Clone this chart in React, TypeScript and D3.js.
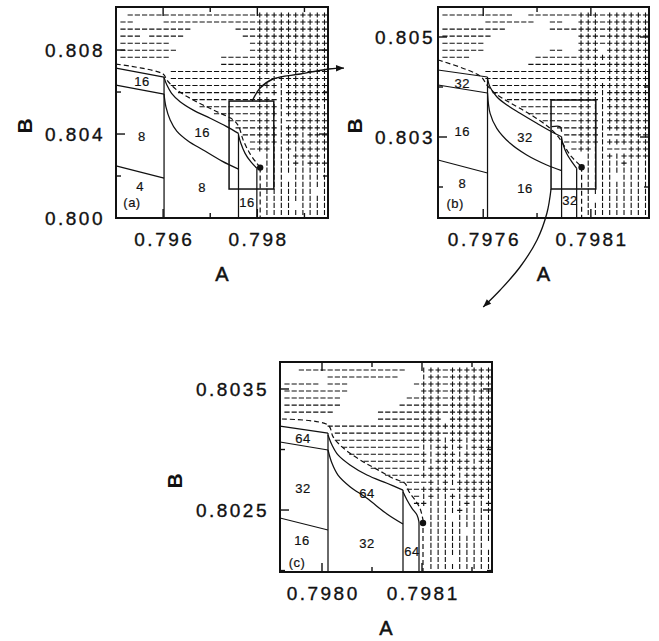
import React from 'react';
import * as d3 from 'd3';

type Pt = [number, number];

// ---------------- panel (a)
const aXDomain: Pt = [0.795, 0.7995];
const aYDomain: Pt = [0.8, 0.81005];
const aXTicks = [0.796, 0.798];
const aXMinor = [0.797, 0.799];
const aXTickLabels = ['0.796', '0.798'];
const aYTicks = [0.8, 0.804, 0.808];
const aYMinor = [0.802, 0.806];
const aYTickLabels = ['0.800', '0.804', '0.808'];

const aSolid: Pt[][] = [
  [[0.795, 0.80714], [0.79602, 0.80671]],
  [[0.795, 0.80633], [0.79602, 0.8059]],
  [[0.795, 0.80248], [0.79602, 0.8019]],
  [[0.79602, 0.80671], [0.79602, 0.8]],
  [[0.79602, 0.8067], [0.79608, 0.80633], [0.79618, 0.80594], [0.79636, 0.80554], [0.79664, 0.80514], [0.797, 0.80475], [0.79735, 0.80435], [0.7976, 0.80403]],
  [[0.79602, 0.8059], [0.79606, 0.80529], [0.79615, 0.80467], [0.79629, 0.80414], [0.79653, 0.80367], [0.79685, 0.80324], [0.79725, 0.80271], [0.7976, 0.80233]],
  [[0.7976, 0.80403], [0.7976, 0.8]],
  [[0.7976, 0.80395], [0.79765, 0.80356], [0.79774, 0.80308], [0.79786, 0.80268], [0.79799, 0.80237]],
  [[0.79799, 0.80237], [0.79799, 0.8]],
];
const aDashed: Pt[][] = [
  [[0.795, 0.80733], [0.796, 0.80686], [0.79608, 0.80657], [0.79629, 0.8061], [0.79664, 0.80562], [0.79707, 0.80514], [0.79749, 0.80467], [0.7976, 0.80438], [0.7977, 0.80371], [0.79784, 0.80308], [0.79799, 0.8026], [0.79806, 0.8024]],
  [[0.79806, 0.8024], [0.79806, 0.8]],
];
const aDot: Pt = [0.79806, 0.8024];
const aBox: Pt[] = [[0.7974, 0.80138], [0.79835, 0.80557]];
const aTexts = ['16', '8', '4', '(a)', '16', '8', '16'];
const aTextPos: Pt[] = [
  [0.79555, 0.80648], [0.79555, 0.8039], [0.79551, 0.80148], [0.79534, 0.80076],
  [0.79683, 0.80405], [0.79683, 0.80143], [0.79778, 0.80076],
];
const aGrid = [
  '.------------------:++++++++++',
  '--....-------------:++++++++++',
  '----------......---:++++++++++',
  '---.-----........--:++++++++++',
  '-------...........-:++++++++++',
  '--------..........-:+++++|++++',
  '-------.......-----:++++++++++',
  '..............-----:++++++++++',
  '.......------------:++++++++++',
  '.......------------:+-++++++++',
  '.......------------:+++|++++++',
  '........-----------:+-+|++++++',
  '..........---------:++-|++++++',
  '...........--------:+++|+++++|',
  '.............------:+++|++++++',
  '...............----:++-|-+++++',
  '................---:+++|++++++',
  '.................--:+++|++|+++',
  '..................-:+++|++++++',
  '..................-:++||+|++++',
  ':.||||++++|',
  ':.||||+|+++',
  ':.|||||||||',
  ':.|||.|||||',
  ':.|||||||||',
  ':.|||||||.|',
  ':.|||||||||',
  ':.||||.||||',
  ':.|||||||||',
];
const aArrow: Pt[] = [[0.79789, 0.80557], [0.79806, 0.80619], [0.79833, 0.80662], [0.79891, 0.80686], [0.79952, 0.8071], [0.79984, 0.80714]];

// ---------------- panel (b)
const bXDomain: Pt = [0.79739, 0.79837];
const bYDomain: Pt = [0.80138, 0.8056];
const bXTicks = [0.7976, 0.7981];
const bXMinor = [0.79785];
const bXTickLabels = ['0.7976', '0.7981'];
const bYTicks = [0.803, 0.805];
const bYMinor = [0.802, 0.804];
const bYTickLabels = ['0.803', '0.805'];

const bSolid: Pt[][] = [
  [[0.79739, 0.80434], [0.79762, 0.8042]],
  [[0.79739, 0.80404], [0.79762, 0.80388]],
  [[0.79739, 0.80254], [0.79762, 0.80228]],
  [[0.79762, 0.8042], [0.79762, 0.80138]],
  [[0.79762, 0.80417], [0.797632, 0.803994], [0.797663, 0.803806], [0.79771, 0.80364], [0.797771, 0.803474], [0.797849, 0.803274], [0.797926, 0.803086], [0.797964, 0.803006]],
  [[0.79762, 0.80388], [0.797632, 0.803474], [0.797663, 0.803174], [0.797725, 0.802874], [0.797802, 0.80264], [0.797895, 0.80244], [0.797964, 0.802326]],
  [[0.797964, 0.803006], [0.797964, 0.80138]],
  [[0.797964, 0.802974], [0.797972, 0.80284], [0.797987, 0.802674], [0.798011, 0.802506], [0.798034, 0.802374]],
  [[0.798034, 0.802374], [0.798034, 0.80138]],
  [[0.797918, 0.803206], [0.797957, 0.803206], [0.797964, 0.803106]],
];
const bDashed: Pt[][] = [
  [[0.79739, 0.80454], [0.797586, 0.80422], [0.797617, 0.80404], [0.797655, 0.803874], [0.797717, 0.803706], [0.79781, 0.803474], [0.797902, 0.803206], [0.797948, 0.803006], [0.797979, 0.802806], [0.79801, 0.802606], [0.798057, 0.802406]],
  [[0.798057, 0.802406], [0.798057, 0.80138]],
];
const bDot: Pt = [0.798057, 0.802394];
const bBox: Pt[] = [[0.797915, 0.80196], [0.798123, 0.80374]];
const bTexts = ['32', '16', '8', '(b)', '32', '16', '32'];
const bTextPos: Pt[] = [
  [0.797503, 0.80408], [0.797503, 0.80312], [0.797503, 0.80208], [0.79747, 0.80168],
  [0.797794, 0.803], [0.797794, 0.80198], [0.798003, 0.80174],
];
const bGrid = [
  '----------..-------:+++-++++++',
  '......-------..--..:+++-++++++',
  '---------......----:+++-++++++',
  '-------............:+++-++++++',
  '------.............:+++-++++++',
  '------.........--..:+++.++++++',
  '----.........------:++++++++++',
  '............-------:+-+-++++++',
  '......-------------:+++-++++++',
  '......-------------:+++-++++++',
  '.......------------:++++++++++',
  '.......------------:+++|++++++',
  '.........----------:+++|++++++',
  '...........--------:++||++++++',
  '............-------:+++|++++++',
  '..............-----:+++|++++++',
  '................---:+++|++++++',
  '.................--:+++|--++++',
  '.................--:+++|++++++',
  '..................-:++||---+++',
  ':.|||+|++++',
  ':.|||||+|||',
  ':.|||||||||',
  ':.||||.||||',
  ':.|||||||||',
  ':.|||||||||',
  ':.|.|||||||',
  ':.|||||||||',
  ':.|||||||||',
];
const bArrow: Pt[] = [[0.797915, 0.80196], [0.797896, 0.80148], [0.79785, 0.80094], [0.797771, 0.8004], [0.797679, 0.79994], [0.7976, 0.7996]];

// ---------------- panel (c)
const cXDomain: Pt = [0.797958, 0.79817];
const cYDomain: Pt = [0.801988, 0.803723];
const cXTicks = [0.798, 0.7981];
const cXMinor = [0.79805, 0.79815];
const cXTickLabels = ['0.7980', '0.7981'];
const cYTicks = [0.8025, 0.8035];
const cYMinor = [0.802, 0.803];
const cYTickLabels = ['0.8025', '0.8035'];

const cSolid: Pt[][] = [
  [[0.797958, 0.803194], [0.798006, 0.803136]],
  [[0.797958, 0.803062], [0.798006, 0.802996]],
  [[0.797958, 0.802434], [0.798006, 0.802335]],
  [[0.798006, 0.803136], [0.798006, 0.801988]],
  [[0.798006, 0.80312], [0.79801, 0.803037], [0.798016, 0.802955], [0.798028, 0.802872], [0.798045, 0.802789], [0.798065, 0.802721], [0.798081, 0.802665]],
  [[0.798006, 0.802996], [0.79801, 0.802886], [0.798016, 0.802789], [0.798028, 0.802693], [0.798045, 0.802597], [0.798065, 0.802467], [0.798081, 0.802384]],
  [[0.798081, 0.802665], [0.798081, 0.801988]],
  [[0.798081, 0.802651], [0.798085, 0.802583], [0.79809, 0.802514], [0.798095, 0.802459], [0.798097, 0.802401]],
  [[0.798097, 0.802401], [0.798097, 0.801988]],
];
const cDashed: Pt[][] = [
  [[0.79796, 0.803252], [0.798006, 0.803202], [0.798011, 0.803106], [0.798018, 0.803037], [0.798028, 0.802969], [0.798041, 0.802899], [0.798055, 0.802836], [0.798071, 0.802762], [0.798083, 0.80272], [0.798087, 0.802651], [0.798093, 0.802583], [0.798098, 0.802514], [0.798101, 0.802417]],
  [[0.798101, 0.802417], [0.798101, 0.801988]],
];
const cDot: Pt = [0.798101, 0.802393];
const cTexts = ['64', '32', '16', '(c)', '64', '32', '64'];
const cTextPos: Pt[] = [
  [0.797981, 0.803095], [0.797981, 0.802682], [0.79798, 0.802252], [0.797975, 0.80207],
  [0.798045, 0.80264], [0.798045, 0.802227], [0.79809, 0.802161],
];
const cGrid = [
  '..---------------..:|++-++++++',
  '......----------...:|++-++++++',
  '-----.---.........-:+++-++++++',
  '---------..........:+++-++++++',
  '--------.........--:+++-+++|++',
  '--------........---:+++-++++++',
  '-------......------:+++-++++++',
  '.............------:+++.++++++',
  '......-------------:++++++++++',
  '.......------------:+++-++++++',
  '.......------------:+++|++|+++',
  '........-----------:||++|+|+++',
  '.........----------:+|+++|++++',
  '...........--------:+|+++++|++',
  '............-------:|+++|+++++',
  '..............-----:+++++|++++',
  '................---:-+|+|+++++',
  '.................--:++++-+++++',
  '..................-:|+||+|+++|',
  '..................-:+|||||+||+',
  ':.||||+||||',
  ':.|||.|||||',
  ':.|||||||||',
  ':.|||||.|||',
  ':.|||||||||',
  ':.||||||||.',
  ':.|||||||||',
  ':.|||.|||||',
  ':.|||||||||',
];

type PanelDef = {
  id: string;
  left: number; top: number; w: number; h: number;
  labelGap: number;
  xDomain: Pt; yDomain: Pt;
  xTicks: number[]; xMinor: number[]; xTickLabels: string[];
  yTicks: number[]; yMinor: number[]; yTickLabels: string[];
  solid: Pt[][]; dashed: Pt[][]; dot: Pt; box?: Pt[];
  texts: string[]; textPos: Pt[]; grid: string[];
  bx: number;
};

const panels: PanelDef[] = [
  { id: 'a', left: 116, top: 7, w: 212, h: 211, labelGap: 11, xDomain: aXDomain, yDomain: aYDomain,
    xTicks: aXTicks, xMinor: aXMinor, xTickLabels: aXTickLabels, yTicks: aYTicks, yMinor: aYMinor, yTickLabels: aYTickLabels,
    solid: aSolid, dashed: aDashed, dot: aDot, box: aBox, texts: aTexts, textPos: aTextPos, grid: aGrid, bx: 24 },
  { id: 'b', left: 438, top: 7, w: 211, h: 211, labelGap: 3, xDomain: bXDomain, yDomain: bYDomain,
    xTicks: bXTicks, xMinor: bXMinor, xTickLabels: bXTickLabels, yTicks: bYTicks, yMinor: bYMinor, yTickLabels: bYTickLabels,
    solid: bSolid, dashed: bDashed, dot: bDot, box: bBox, texts: bTexts, textPos: bTextPos, grid: bGrid, bx: 354 },
  { id: 'c', left: 280, top: 362, w: 212, h: 210, labelGap: 11, xDomain: cXDomain, yDomain: cYDomain,
    xTicks: cXTicks, xMinor: cXMinor, xTickLabels: cXTickLabels, yTicks: cYTicks, yMinor: cYMinor, yTickLabels: cYTickLabels,
    solid: cSolid, dashed: cDashed, dot: cDot, texts: cTexts, textPos: cTextPos, grid: cGrid, bx: 174 },
];

const INK = '#111';
const FONT = "'Liberation Sans', Arial, Helvetica, sans-serif";

function scales(p: PanelDef) {
  const x = d3.scaleLinear().domain(p.xDomain).range([p.left, p.left + p.w]);
  const y = d3.scaleLinear().domain(p.yDomain).range([p.top + p.h, p.top]);
  return { x, y };
}

function Panel({ p }: { p: PanelDef }) {
  const { x, y } = scales(p);
  const curve = d3.line<Pt>().x(d => x(d[0])).y(d => y(d[1])).curve(d3.curveCatmullRom.alpha(0.5));
  const gx = d3.scalePoint<number>().domain(d3.range(29)).range([p.left + 7, p.left + p.w - 3.5]);
  const gy = d3.scalePoint<number>().domain(d3.range(29)).range([p.top + 8, p.top + p.h - 5.5]);
  const right = p.left + p.w;
  const bottom = p.top + p.h;

  // grid of sign symbols, one per sampled (A, B) point
  const symbols: string[] = [];
  p.grid.forEach((row, j) => {
    const [l, r] = row.split(':');
    const full = l.padEnd(19, '.').slice(0, 19) + r;
    for (let i = 0; i < full.length && i < 29; i++) {
      const c = full[i];
      const cx = gx(i)!;
      const cy = gy(j)!;
      if (c === '-') symbols.push(`M${cx - 2.6},${cy}h5.2`);
      else if (c === '|') symbols.push(`M${cx},${cy - 2.6}v5.2`);
      else if (c === '+') symbols.push(`M${cx - 2.6},${cy}h5.2M${cx},${cy - 2.6}v5.2`);
    }
  });

  const tick = (vals: number[], len: number) =>
    vals.map(v => (
      <g key={`t${v}`}>
        <line x1={x(v)} x2={x(v)} y1={bottom} y2={bottom - len} />
        <line x1={x(v)} x2={x(v)} y1={p.top} y2={p.top + len} />
      </g>
    ));
  const ytick = (vals: number[], len: number) =>
    vals.map(v => (
      <g key={`y${v}`}>
        <line x1={p.left} x2={p.left + len} y1={y(v)} y2={y(v)} />
        <line x1={right} x2={right - len} y1={y(v)} y2={y(v)} />
      </g>
    ));

  return (
    <g>
      <path d={symbols.join('')} stroke={INK} strokeWidth={1.1} fill="none" />
      {p.solid.map((s, k) => (
        <path key={`s${k}`} d={curve(s) ?? ''} stroke={INK} strokeWidth={1.25} fill="none" />
      ))}
      {p.dashed.map((s, k) => (
        <path key={`d${k}`} d={curve(s) ?? ''} stroke={INK} strokeWidth={1.2} strokeDasharray="5,3" fill="none" />
      ))}
      {p.box && (
        <rect x={x(p.box[0][0])} y={y(p.box[1][1])} width={x(p.box[1][0]) - x(p.box[0][0])}
          height={y(p.box[0][1]) - y(p.box[1][1])} fill="none" stroke={INK} strokeWidth={1.5} />
      )}
      <circle cx={x(p.dot[0])} cy={y(p.dot[1])} r={3.2} fill={INK} />
      {p.texts.map((t, k) => (
        <text key={`l${k}`} x={x(p.textPos[k][0])} y={y(p.textPos[k][1]) + 4.5} textAnchor="middle"
          fontSize={13} fontFamily={FONT} letterSpacing={0.5} fill={INK} stroke={INK} strokeWidth={0.2}>{t}</text>
      ))}
      <g stroke={INK} strokeWidth={1.4}>
        {tick(p.xTicks, 9)}
        {tick(p.xMinor, 5)}
        {ytick(p.yTicks, 9)}
        {ytick(p.yMinor, 5)}
      </g>
      <rect x={p.left} y={p.top} width={p.w} height={p.h} fill="none" stroke={INK} strokeWidth={2} />
      {p.xTicks.map((v, k) => (
        <text key={`xl${k}`} x={x(v) + 1.2} y={bottom + 28} textAnchor="middle" fontSize={19}
          fontFamily={FONT} letterSpacing={2.5} fill={INK} stroke={INK} strokeWidth={0.35}>{p.xTickLabels[k]}</text>
      ))}
      {p.yTicks.map((v, k) => (
        <text key={`yl${k}`} x={p.left - p.labelGap} y={y(v) + 7} textAnchor="end" fontSize={19}
          fontFamily={FONT} letterSpacing={2.5} fill={INK} stroke={INK} strokeWidth={0.35}>{p.yTickLabels[k]}</text>
      ))}
      <text x={p.left + p.w / 2} y={bottom + 63} textAnchor="middle" fontSize={20} fontFamily={FONT}
        fill={INK} stroke={INK} strokeWidth={0.5}>A</text>
      <text transform={`translate(${p.bx},${p.top + 119}) rotate(-90)`} textAnchor="middle" dominantBaseline="central"
        fontSize={21} fontWeight="bold" fontFamily={FONT} fill={INK}>B</text>
    </g>
  );
}

export default function App() {
  const sa = scales(panels[0]);
  const sb = scales(panels[1]);
  const arrowLineA = d3.line<Pt>().x(d => sa.x(d[0])).y(d => sa.y(d[1])).curve(d3.curveCatmullRom.alpha(0.5));
  const arrowLineB = d3.line<Pt>().x(d => sb.x(d[0])).y(d => sb.y(d[1])).curve(d3.curveCatmullRom.alpha(0.5));
  return (
    <svg width={659} height={641} style={{ position: 'absolute', left: 0, top: 0, background: '#fff' }}>
      <defs>
        <marker id="head" viewBox="0 -5 10 10" refX={10} refY={0} markerWidth={11} markerHeight={8}
          markerUnits="userSpaceOnUse" orient="auto">
          <path d="M0,-4L10,0L0,4Z" fill={INK} />
        </marker>
      </defs>
      <rect width={659} height={641} fill="#fff" />
      {panels.map(p => <Panel key={p.id} p={p} />)}
      <path d={arrowLineA(aArrow) ?? ''} stroke={INK} strokeWidth={1.4} fill="none" markerEnd="url(#head)" />
      <path d={arrowLineB(bArrow) ?? ''} stroke={INK} strokeWidth={1.3} fill="none" markerEnd="url(#head)" />
    </svg>
  );
}
